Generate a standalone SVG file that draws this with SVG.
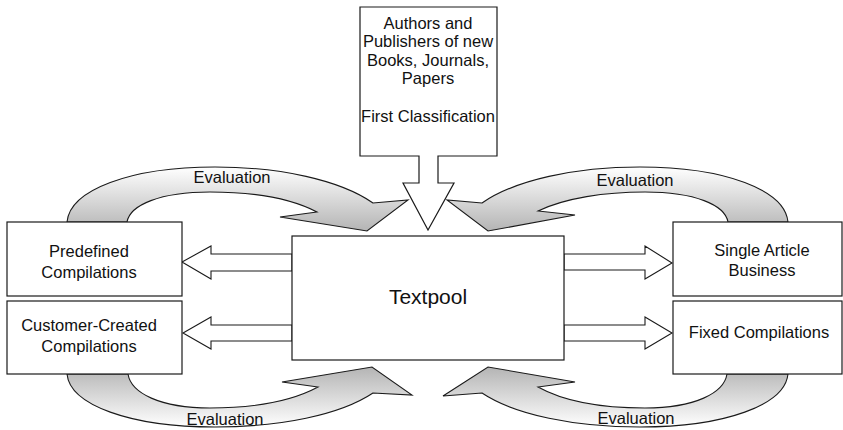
<svg xmlns="http://www.w3.org/2000/svg" width="843" height="430" viewBox="0 0 843 430">
<defs>
<linearGradient id="gTop" x1="0" y1="0" x2="0" y2="1">
<stop offset="0" stop-color="#ffffff"/>
<stop offset="1" stop-color="#b4b4b4"/>
</linearGradient>
<linearGradient id="gBot" x1="0" y1="1" x2="0" y2="0">
<stop offset="0" stop-color="#ffffff"/>
<stop offset="1" stop-color="#b4b4b4"/>
</linearGradient>
</defs>
<style>
.box{fill:#fff;stroke:#1a1a1a;stroke-width:1.2}
.arr{fill:#fff;stroke:#1a1a1a;stroke-width:1.1}
.cur{stroke:#1a1a1a;stroke-width:1.1}
text{font-family:"Liberation Sans",Arial,sans-serif;font-size:16.5px;fill:#111;text-anchor:middle}
.big{font-size:21px}
</style>
<rect width="843" height="430" fill="#fff"/>
<g id="connectors">
<path class="cur" fill="url(#gTop)" d="M67,222 C70,190 130,167 215,167 C280,167 340,180 373,203 L408,200 L367,231 L280,217 L317,212 C290,198 250,192 210,192 C160,192 130,205 127,222 Z"/>
<path class="cur" fill="url(#gTop)" d="M788,222 C785,190 725,167 640,167 C575,167 515,180 482,203 L447,200 L488,231 L575,215 L538,211 C565,198 605,192 645,192 C695,192 725,205 728,222 Z"/>
<path class="cur" fill="url(#gBot)" d="M67,374 C70,405 130,427 215,427 C280,427 340,415 373,393 L412,395 L372,367 L282,382 L318,387 C290,402 250,408 210,408 C160,408 131,393 128,374 Z"/>
<path class="cur" fill="url(#gBot)" d="M788,374 C785,405 725,427 640,427 C575,427 515,415 482,393 L443,396 L488,367 L575,382 L538,387 C565,402 605,408 645,408 C695,408 724,393 727,374 Z"/>
<polygon class="arr" points="292,254 211,254 211,246 182,262 211,279 211,271 292,271"/>
<polygon class="arr" points="292,325 211,325 211,317 183,333 211,349 211,341 292,341"/>
<polygon class="arr" points="564,254 645,254 645,246 672,263 645,279 645,270 564,270"/>
<polygon class="arr" points="564,325 645,325 645,317 672,333 645,349 645,341 564,341"/>
<text x="232" y="183">Evaluation</text>
<text x="635" y="186">Evaluation</text>
<text x="225" y="425">Evaluation</text>
<text x="636" y="424">Evaluation</text>
</g>
<g id="authors">
<path class="box" d="M360,7 L497,7 L497,156 L438,156 L438,183 L454,183 L428,230 L403,183 L419,183 L419,156 L360,156 Z"/>
<text x="428" y="29">Authors and</text>
<text x="428" y="47">Publishers of new</text>
<text x="428" y="66">Books, Journals,</text>
<text x="428" y="84">Papers</text>
<text x="428" y="122">First Classification</text>
</g>
<g id="textpool">
<rect class="box" x="292" y="236" width="272" height="124"/>
<text class="big" x="428" y="304">Textpool</text>
</g>
<g id="predefined">
<rect class="box" x="7" y="222" width="175" height="74"/>
<text x="89" y="257">Predefined</text>
<text x="89" y="278">Compilations</text>
</g>
<g id="customer">
<rect class="box" x="7" y="301" width="175" height="73"/>
<text x="89" y="331">Customer-Created</text>
<text x="89" y="352">Compilations</text>
</g>
<g id="single">
<rect class="box" x="673" y="222" width="169" height="74"/>
<text x="762" y="256">Single Article</text>
<text x="762" y="276">Business</text>
</g>
<g id="fixed">
<rect class="box" x="673" y="301" width="169" height="73"/>
<text x="759" y="338">Fixed Compilations</text>
</g>
</svg>
